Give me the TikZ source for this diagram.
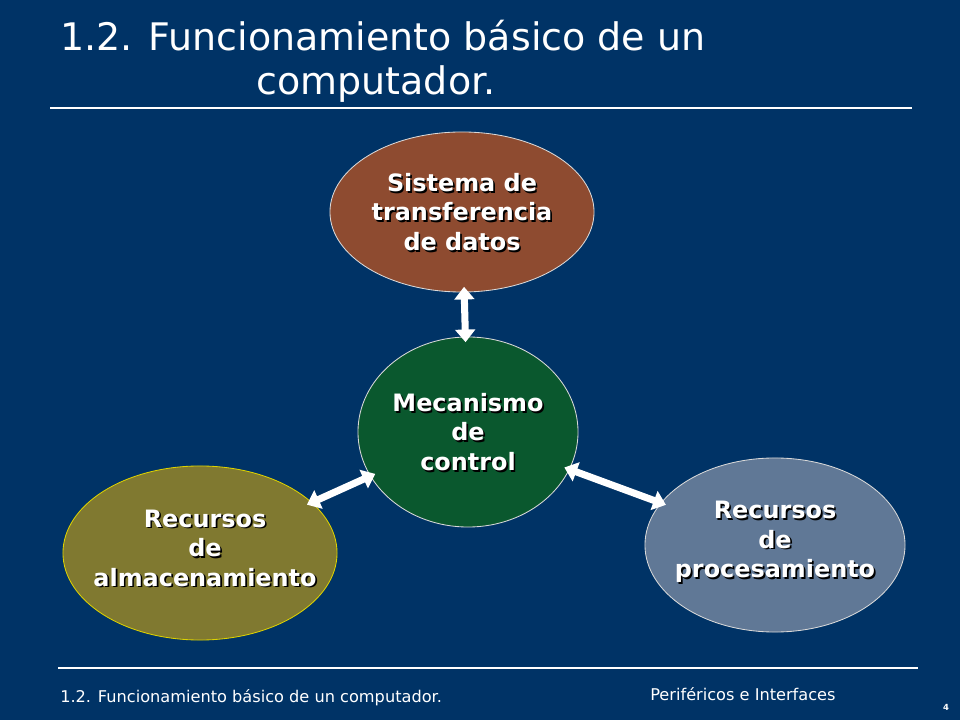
\documentclass[tikz,border=0pt]{standalone}
\usepackage{fontspec}
\setmainfont{DejaVu Sans}
\usetikzlibrary{calc,arrows.meta,shapes.geometric}
\definecolor{bgblue}{RGB}{0,51,102}
\definecolor{brownfill}{RGB}{142,75,48}
\definecolor{greenfill}{RGB}{10,88,46}
\definecolor{olivefill}{RGB}{128,121,48}
\definecolor{slatefill}{RGB}{96,120,150}
\tikzset{>=Stealth,
  blob/.style={ellipse,draw=white!70!gray,line width=.6pt},
  lbl/.style={text=white,font=\bfseries\fontsize{17}{21}\selectfont,align=center},
  link/.style={white,line width=5pt,{Triangle[length=9pt,width=14pt]}-{Triangle[length=9pt,width=14pt]},shorten <=-4pt,shorten >=-4pt}}
\newcommand*{\shtext}[2]
  {\node[lbl,text=black] at ($(#1)+(1.2pt,-1.2pt)$) {#2};
   \node[lbl] at (#1) {#2};}
\begin{document}
\begin{tikzpicture}[x=0.025cm,y=-0.025cm]
\fill[bgblue] (0,0) rectangle (960,720);
% title
\node[anchor=west,text=white,font=\fontsize{27}{32}\selectfont,inner sep=0]
  (title1) at (60,36) {1.2. Funcionamiento básico de un};
\node[text=white,font=\fontsize{27}{32}\selectfont,inner sep=0]
  (title2) at (376,84) {computador.};
\draw[white,line width=1.5pt] (50,108) -- (912,108);
% ellipses
\node[blob,fill=brownfill,minimum width=6.6cm,minimum height=4cm]
  (transfer) at (462,212) {};
\node[blob,fill=greenfill,minimum width=5.5cm,minimum height=4.75cm]
  (control) at (468,432) {};
\node[blob,fill=olivefill,draw=yellow!70!olive,minimum width=6.85cm,
      minimum height=4.35cm] (storage) at (200,553) {};
\node[blob,fill=slatefill,minimum width=6.5cm,minimum height=4.35cm]
  (process) at (775,545) {};
\shtext{transfer}{Sistema de\\transferencia\\de datos}
\shtext{control}{Mecanismo\\de\\control}
\shtext{$(storage)+(5,-5)$}{Recursos\\de\\almacenamiento}
\shtext{$(process)+(0,-3)$}{Recursos\\de\\procesamiento}
% links
\draw[link] (transfer) -- (control);
\draw[link] (storage) -- (control);
\draw[link] (control) -- (process);
% footer
\draw[white,line width=1.5pt] (58,668) -- (918,668);
\node[anchor=west,text=white,font=\fontsize{11.5}{14}\selectfont,inner sep=0]
  (foot) at (60,698) {1.2. Funcionamiento básico de un computador.};
\node[anchor=west,text=white,font=\fontsize{11.5}{14}\selectfont,inner sep=0]
  (course) at (650,694) {Periféricos e Interfaces};
\node[text=white,font=\bfseries\fontsize{6}{7}\selectfont,inner sep=0]
  (page) at (946,707) {4};
\end{tikzpicture}
\end{document}
